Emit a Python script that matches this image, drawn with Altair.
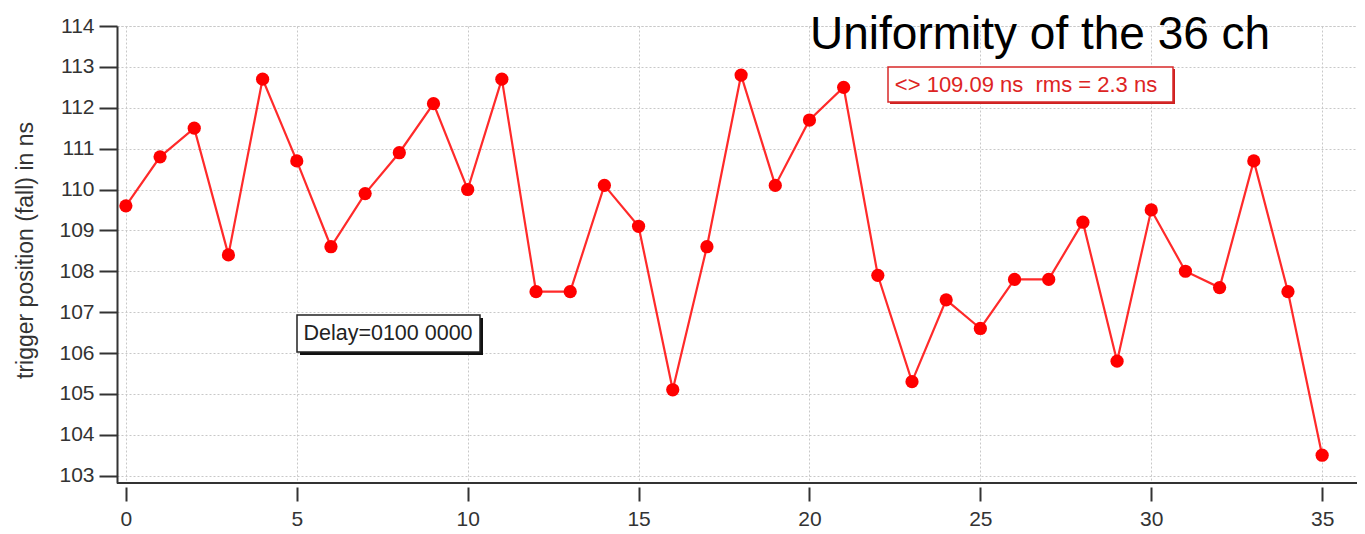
import altair as alt
import pandas as pd

# ---- data ----
channels = list(range(36))
trigger_ns = [109.6, 110.8, 111.5, 108.4, 112.7, 110.7, 108.6, 109.9, 110.9, 112.1,
              110.0, 112.7, 107.5, 107.5, 110.1, 109.1, 105.1, 108.6, 112.8, 110.1,
              111.7, 112.5, 107.9, 105.3, 107.3, 106.6, 107.8, 107.8, 109.2, 105.8,
              109.5, 108.0, 107.6, 110.7, 107.5, 103.5]
x_ticks = [0, 5, 10, 15, 20, 25, 30, 35]
y_ticks = [103, 104, 105, 106, 107, 108, 109, 110, 111, 112, 113, 114]
title_text = "Uniformity of the 36 ch"
stats_text = "<> 109.09 ns\u00a0\u00a0rms = 2.3 ns"
delay_text = "Delay=0100 0000"
y_title = "trigger position (fall) in ns"

W, H = 1240, 457
FONT = "Liberation Sans"
GRID = "#c8c8c8"

df = pd.DataFrame({"ch": channels, "t": trigger_ns})
one = pd.DataFrame({"a": [0]})

x_enc = alt.X(
    "ch:Q",
    scale=alt.Scale(domain=[-0.26, 36.02], nice=False, zero=False),
    axis=alt.Axis(values=x_ticks, title=None, grid=True, gridColor=GRID, gridDash=[2, 2],
                  gridWidth=1, domain=False, offset=4, tickSize=14, tickWidth=2,
                  tickColor="#333", labelFontSize=21, labelColor="#333", labelPadding=7,
                  labelFont=FONT),
)
y_enc = alt.Y(
    "t:Q",
    scale=alt.Scale(domain=[102.82, 114], nice=False, zero=False),
    axis=alt.Axis(values=y_ticks, title=y_title, grid=True, gridColor=GRID, gridDash=[2, 2],
                  gridWidth=1, domain=True, domainColor="#333", domainWidth=2,
                  tickSize=18, tickWidth=2, tickColor="#333", labelFontSize=21,
                  labelColor="#333", labelPadding=5, labelFont=FONT,
                  titleFont=FONT, titleFontSize=23, titleFontWeight="normal",
                  titleColor="#333", titleAngle=-90, titleX=-80, titleY=224,
                  titleAlign="center", titleBaseline="bottom"),
)

base = alt.Chart(df)
line = base.mark_line(color="#ff2a2a", strokeWidth=2.2).encode(x=x_enc, y=y_enc)
pts = base.mark_circle(size=175, color="#ff0000", opacity=1).encode(x="ch:Q", y="t:Q")

frame = alt.Chart(one).mark_rule(color="#333", strokeWidth=2).encode(
    x=alt.value(0), x2=alt.value(W), y=alt.value(H))

title = alt.Chart(one).mark_text(text=title_text, font=FONT, fontSize=46, color="black",
                                 align="left", baseline="alphabetic").encode(
    x=alt.value(693), y=alt.value(23))

# stats box (red)
s_shadow = alt.Chart(one).mark_rect(color="#cc2020").encode(
    x=alt.value(773), x2=alt.value(1058), y=alt.value(43), y2=alt.value(78))
s_box = alt.Chart(one).mark_rect(fill="white", stroke="#d82828", strokeWidth=1.5).encode(
    x=alt.value(771), x2=alt.value(1056), y=alt.value(41), y2=alt.value(76))
s_text = alt.Chart(one).mark_text(text=stats_text, font=FONT, fontSize=22, color="#dd2424",
                                  align="center", baseline="middle").encode(
    x=alt.value(909), y=alt.value(59))

# delay box (black)
d_shadow = alt.Chart(one).mark_rect(color="#111").encode(
    x=alt.value(183), x2=alt.value(366), y=alt.value(292), y2=alt.value(329))
d_box = alt.Chart(one).mark_rect(fill="white", stroke="#222", strokeWidth=1.5).encode(
    x=alt.value(180), x2=alt.value(363), y=alt.value(289), y2=alt.value(326))
d_text = alt.Chart(one).mark_text(text=delay_text, font=FONT, fontSize=21.5, color="#222",
                                  align="center", baseline="middle").encode(
    x=alt.value(271), y=alt.value(308))

chart = alt.layer(line, pts, frame, title, s_shadow, s_box, s_text, d_shadow, d_box, d_text).properties(
    width=W, height=H,
    autosize=alt.AutoSizeParams(type="none"),
    padding={"left": 109, "top": 18, "right": 0, "bottom": 49},
).configure(font=FONT, background="white").configure_view(stroke=GRID, strokeDash=[2, 2])

chart.save("out.html", embed_options={"renderer": "svg", "actions": False})
